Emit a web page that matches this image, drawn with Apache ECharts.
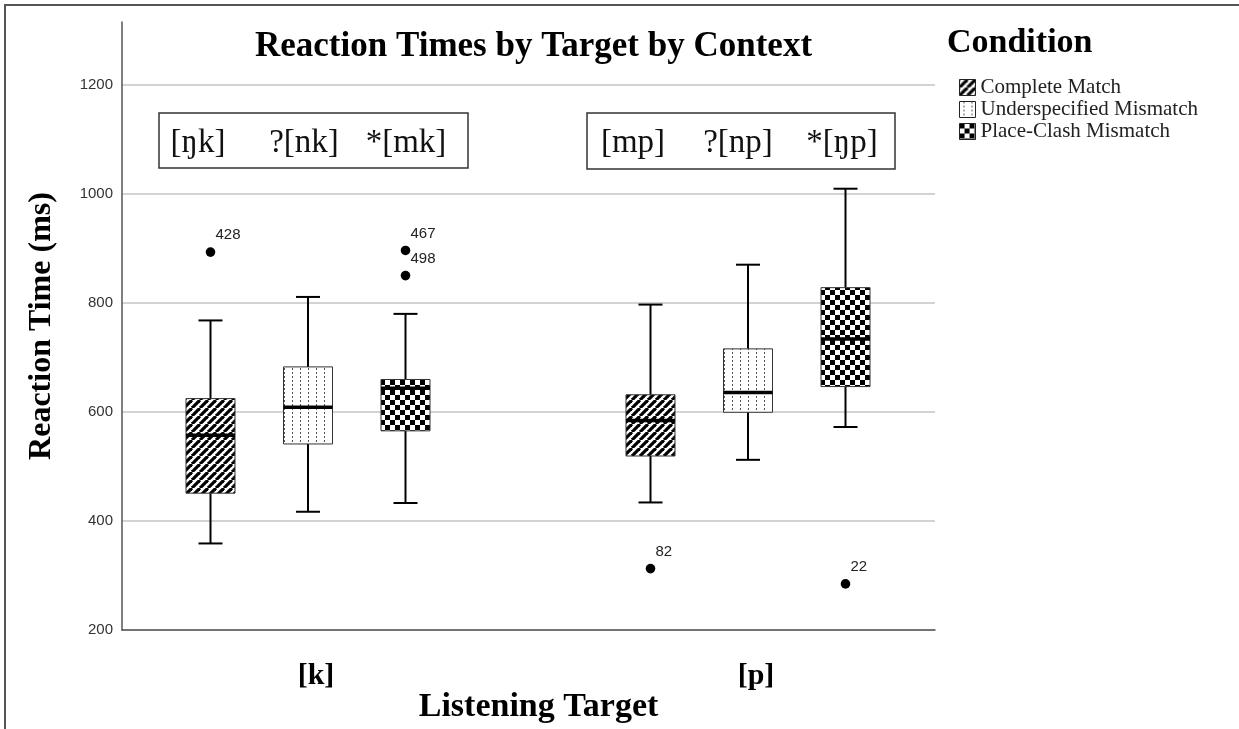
<!DOCTYPE html>
<html><head><meta charset="utf-8">
<script src="https://cdn.jsdelivr.net/npm/echarts@6/dist/echarts.min.js"></script>
<style>html,body{margin:0;padding:0;background:#fff}#c{width:1239px;height:729px}</style>
</head><body><div id="c"></div>
<script>
// ---------------- data ----------------
const targets = ['[k]', '[p]'];
const conditions = ['Complete Match', 'Underspecified Mismatch', 'Place-Clash Mismatch'];
// [min, Q1, median, Q3, max] for [k], [p]
const completeMatch  = [[362, 454, 560, 627, 770], [437, 522, 587, 634, 799]];
const underspecified = [[420, 544, 611, 685, 813], [515, 602, 638, 718, 872]];
const placeClash     = [[436, 568, 646, 662, 782], [575, 649, 736, 830, 1011]];
// outliers: [target index, value]
const completeOutliers = [[0, 895], [1, 316]];
const underspecOutliers = [];
const placeOutliers = [[0, 898], [0, 852], [1, 288]];
// outlier case labels
const completeOutlierLabels = ['428', '82'];
const underspecOutlierLabels = [];
const placeOutlierLabels = ['467', '498', '22'];
const contextLabels = [['[ŋk]', '?[nk]', '*[mk]'], ['[mp]', '?[np]', '*[ŋp]']];
const yMin = 200, yMax = 1316, yStep = 200;

// ---------------- styles ----------------
function makePattern(kind) {
  const c = document.createElement('canvas');
  let g;
  if (kind === 'stripe') {
    const T = 8;
    c.width = c.height = T; g = c.getContext('2d');
    g.fillStyle = '#fff'; g.fillRect(0, 0, T, T);
    g.strokeStyle = '#000'; g.lineWidth = 3.2;
    for (const o of [-T, 0, T]) { g.beginPath(); g.moveTo(o, T); g.lineTo(o + T, 0); g.stroke(); }
  } else if (kind === 'dots') {
    c.width = 8; c.height = 4; g = c.getContext('2d');
    g.fillStyle = '#fff'; g.fillRect(0, 0, 8, 4);
    g.fillStyle = '#555'; g.fillRect(4, 0, 1, 2);
  } else {
    c.width = c.height = 10; g = c.getContext('2d');
    g.fillStyle = '#fff'; g.fillRect(0, 0, 10, 10);
    g.fillStyle = '#000'; g.fillRect(0, 0, 5, 5); g.fillRect(5, 5, 5, 5);
  }
  return { image: c, repeat: 'repeat' };
}
const fills = [makePattern('stripe'), makePattern('dots'), makePattern('checker')];
const STEP = 97.5, BOX_W = 49, CAP_W = 24;

function boxRender(slot) {
  return function (params, api) {
    const i = api.value(0);
    const cx = api.coord([i, api.value(3)])[0] + (slot - 1) * STEP;
    const y = k => api.coord([i, api.value(k)])[1];
    const y0 = y(1), y1 = y(2), ym = y(3), y3 = y(4), y4 = y(5);
    const ls = { stroke: '#000', lineWidth: 2 };
    return { type: 'group', children: [
      { type: 'line', shape: { x1: cx, y1: y4, x2: cx, y2: y3 }, style: ls },
      { type: 'line', shape: { x1: cx, y1: y1, x2: cx, y2: y0 }, style: ls },
      { type: 'line', shape: { x1: cx - CAP_W / 2, y1: y4, x2: cx + CAP_W / 2, y2: y4 }, style: ls },
      { type: 'line', shape: { x1: cx - CAP_W / 2, y1: y0, x2: cx + CAP_W / 2, y2: y0 }, style: ls },
      { type: 'rect', shape: { x: cx - BOX_W / 2, y: y3, width: BOX_W, height: y1 - y3 },
        style: { fill: fills[slot], stroke: '#333', lineWidth: 1 } },
      { type: 'line', shape: { x1: cx - BOX_W / 2, y1: ym, x2: cx + BOX_W / 2, y2: ym },
        style: { stroke: '#000', lineWidth: 3.5 } }
    ]};
  };
}
function outlierRender(slot, labels) {
  return function (params, api) {
    const p = api.coord([api.value(0), api.value(1)]);
    const cx = p[0] + (slot - 1) * STEP;
    return { type: 'group', children: [
      { type: 'circle', shape: { cx: cx, cy: p[1], r: 4.8 }, style: { fill: '#000' } },
      { type: 'text', x: cx + 5, y: p[1] - 17,
        style: { text: labels[params.dataIndex], fill: '#222', font: '15px "Liberation Sans"',
                 textAlign: 'left', textVerticalAlign: 'middle' } }
    ]};
  };
}
const boxSets = [completeMatch, underspecified, placeClash];
const outSets = [completeOutliers, underspecOutliers, placeOutliers];
const outLabels = [completeOutlierLabels, underspecOutlierLabels, placeOutlierLabels];

const series = [];
boxSets.forEach((set, s) => {
  series.push({ type: 'custom', name: conditions[s], xAxisIndex: 1, yAxisIndex: 1,
    renderItem: boxRender(s), encode: { x: 0, y: [1, 2, 3, 4, 5] },
    itemStyle: { color: fills[s] },
    data: set.map((d, i) => [i].concat(d)) });
  series.push({ type: 'custom', name: conditions[s] + ' outliers', xAxisIndex: 1, yAxisIndex: 1,
    renderItem: outlierRender(s, outLabels[s]), encode: { x: 0, y: 1 },
    data: outSets[s] });
});

const serif = 'Liberation Serif';
const graphics = [
  { type: 'polyline', shape: { points: [[5, 729], [5, 5], [1239, 5]] },
    style: { stroke: '#555', lineWidth: 2, fill: 'none' } },
  { type: 'rect', shape: { x: 159, y: 113, width: 309, height: 55 },
    style: { fill: 'none', stroke: '#333', lineWidth: 1.5 } },
  { type: 'rect', shape: { x: 587, y: 113, width: 308, height: 56 },
    style: { fill: 'none', stroke: '#333', lineWidth: 1.5 } }
];
const ctxX = [[198, 304, 406], [633, 738, 842]];
contextLabels.forEach((row, r) => row.forEach((t, j) => {
  graphics.push({ type: 'text', x: ctxX[r][j], y: 143,
    style: { text: t, font: '33px "' + serif + '"', fill: '#111', textAlign: 'center', textVerticalAlign: 'middle' } });
}));

const chart = echarts.init(document.getElementById('c'), null, { renderer: 'canvas' });
chart.setOption({
  backgroundColor: '#fff',
  animation: false,
  title: [
    { text: 'Reaction Times by Target by Context', left: 250, top: 24,
      textStyle: { fontFamily: serif, fontSize: 35, fontWeight: 'bold', color: '#000' } },
    { text: 'Condition', left: 942, top: 21,
      textStyle: { fontFamily: serif, fontSize: 34, fontWeight: 'bold', color: '#000' } }
  ],
  legend: {
    orient: 'vertical', left: 954, top: 72, itemWidth: 16, itemHeight: 16, itemGap: 1, icon: 'rect',
    selectedMode: false,
    textStyle: { fontFamily: serif, fontSize: 21, color: '#222', lineHeight: 19 },
    data: conditions.map((n, i) => ({ name: n, itemStyle: { color: fills[i], borderColor: '#222', borderWidth: 1 } }))
  },
  grid: [
    { left: 122, right: 304, top: 22, bottom: 97 },
    { left: 88, right: 271, top: 22, bottom: 97 }
  ],
  xAxis: [
    { type: 'category', gridIndex: 0, data: targets, axisLabel: { show: false }, axisTick: { show: false },
      axisLine: { lineStyle: { color: '#555', width: 1.5 } },
      name: 'Listening Target', nameLocation: 'middle', nameGap: 60,
      nameTextStyle: { fontFamily: serif, fontSize: 34, fontWeight: 'bold', color: '#000', padding: [0, 0, 0, 20] } },
    { type: 'category', gridIndex: 1, data: targets, axisLine: { show: false }, axisTick: { show: false },
      axisLabel: { fontFamily: serif, fontSize: 30, fontWeight: 'bold', color: '#000', margin: 29, padding: [0, 0, 0, 16] } }
  ],
  yAxis: [
    { type: 'value', gridIndex: 0, min: yMin, max: yMax, interval: yStep,
      axisLine: { show: true, lineStyle: { color: '#555', width: 1.5 } }, axisTick: { show: false },
      splitLine: { show: true, showMaxLine: false, lineStyle: { color: '#c4c4c4', width: 1.5 } },
      axisLabel: { showMaxLabel: false, formatter: v => String(v), fontFamily: 'Liberation Sans', fontSize: 15, color: '#333', margin: 9 },
      name: 'Reaction Time (ms)', nameLocation: 'middle', nameGap: 64,
      nameTextStyle: { fontFamily: serif, fontSize: 32, fontWeight: 'bold', color: '#000' } },
    { type: 'value', gridIndex: 1, min: yMin, max: yMax, interval: yStep, show: false,
      splitLine: { show: false } }
  ],
  graphic: graphics,
  series: series
});
</script></body></html>
